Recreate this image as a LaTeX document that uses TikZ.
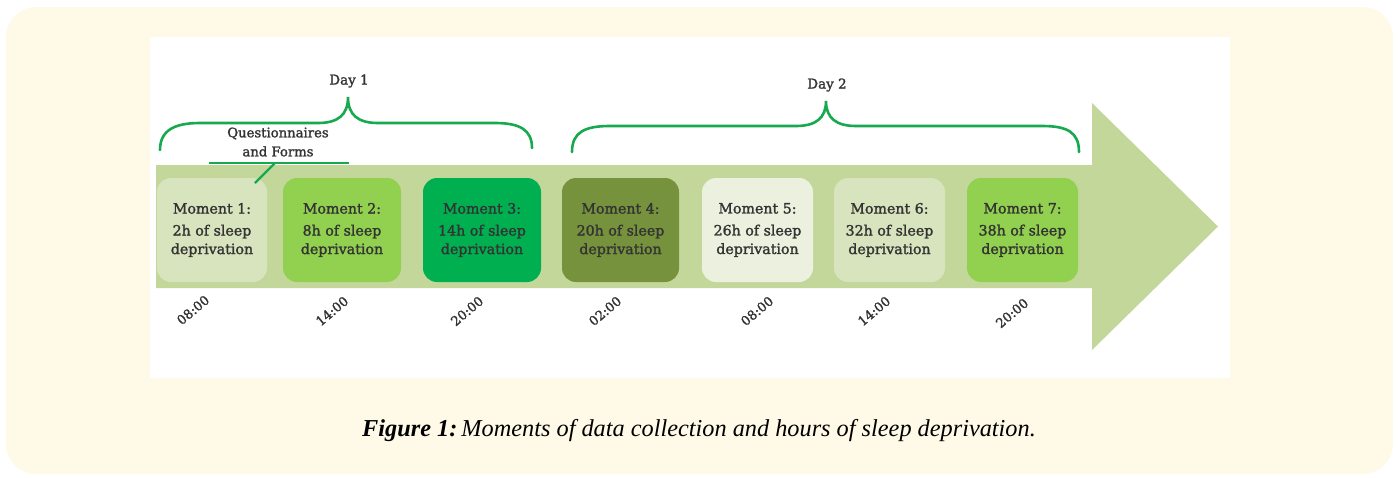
\documentclass[tikz,border=0pt]{standalone}
\usepackage{fontspec}
\setmainfont{DejaVu Serif}
\newfontfamily\semib[FakeBold=1.6]{DejaVu Serif}
\newfontfamily\capfont{Liberation Serif}
\definecolor{cream}{HTML}{FFFAE8}
\definecolor{band}{HTML}{C4D79B}
\definecolor{bxA}{HTML}{D7E4BD}
\definecolor{bxB}{HTML}{92D050}
\definecolor{bxC}{HTML}{00B050}
\definecolor{bxD}{HTML}{76923C}
\definecolor{bxE}{HTML}{EBF1DE}
\definecolor{brace}{HTML}{16A94F}
\definecolor{txt}{HTML}{333333}
\begin{document}
\begin{tikzpicture}[x=1pt,y=-1pt,
  moment/.style={rounded corners=14pt, minimum height=104pt, inner sep=0pt, align=center,
    text=txt, font=\semib\fontsize{14.2}{18.5}\selectfont},
  timelbl/.style={rotate=40, text=txt, font=\semib\fontsize{13}{14}\selectfont, inner sep=0pt},
  bracepath/.style={draw=brace, line width=2.6pt, line cap=round},
  daylbl/.style={text=txt, font=\semib\fontsize{13.5}{15}\selectfont, inner sep=0pt}]
\useasboundingbox (0,0) rectangle (1398,477);
\fill[white] (0,0) rectangle (1398,477);
\fill[cream, rounded corners=30pt] (6,7) rectangle (1393,474);
\fill[white] (150,37) rectangle (1230,378);
% arrow
\fill[band] (156,165) -- (1092,165) -- (1092,103) -- (1218,226.5) -- (1092,350) -- (1092,288) -- (156,288) -- cycle;
% moments
\node[moment, fill=bxA, minimum width=110pt] (m1) at (212,230) {Moment 1:\\[3.5pt]2h of sleep\\deprivation};
\node[moment, fill=bxB, minimum width=118pt] (m2) at (342,230) {Moment 2:\\[3.5pt]8h of sleep\\deprivation};
\node[moment, fill=bxC, minimum width=118pt] (m3) at (482,230) {Moment 3:\\[3.5pt]14h of sleep\\deprivation};
\node[moment, fill=bxD, minimum width=117pt] (m4) at (620.5,230) {Moment 4:\\[3.5pt]20h of sleep\\deprivation};
\node[moment, fill=bxE, minimum width=111pt] (m5) at (757.5,230) {Moment 5:\\[3.5pt]26h of sleep\\deprivation};
\node[moment, fill=bxA, minimum width=111pt] (m6) at (889.5,230) {Moment 6:\\[3.5pt]32h of sleep\\deprivation};
\node[moment, fill=bxB, minimum width=111pt] (m7) at (1022.5,230) {Moment 7:\\[3.5pt]38h of sleep\\deprivation};
% times
\node[timelbl] (t1) at (193,310) {08:00};
\node[timelbl] (t2) at (332,311) {14:00};
\node[timelbl] (t3) at (467,311) {20:00};
\node[timelbl] (t4) at (605,311) {02:00};
\node[timelbl] (t5) at (757,311) {08:00};
\node[timelbl] (t6) at (874,311) {14:00};
\node[timelbl] (t7) at (1012,313) {20:00};
% day braces
\draw[bracepath] (160,150) .. controls (160,130) and (175,123) .. (200,123) -- (318,123)
  .. controls (338,123) and (348,115) .. (348,97)
  .. controls (348,115) and (358,123) .. (378,123) -- (495,123)
  .. controls (520,123) and (532,130) .. (532,148);
\node[daylbl] (d1) at (349,81) {Day 1};
\draw[bracepath] (572,152) .. controls (572,132) and (585,126) .. (610,126) -- (796,126)
  .. controls (816,126) and (826,118) .. (826,101)
  .. controls (826,118) and (836,126) .. (856,126) -- (1042,126)
  .. controls (1067,126) and (1079,132) .. (1079,152);
\node[daylbl] (d2) at (827,85) {Day 2};
% questionnaires callout
\node[daylbl, align=center, font=\semib\fontsize{13.2}{19}\selectfont] (q) at (278,142) {Questionnaires\\and Forms};
\coordinate (ql) at (209,163);
\coordinate (qr) at (349,163);
\coordinate (qk) at (275,163);
\coordinate (qe) at (255,183);
\draw[draw=brace, line width=2.4pt] (ql) -- (qr);
\draw[draw=brace, line width=2.4pt] (qk) -- (qe);
% caption
\node[inner sep=0pt, font=\capfont\fontsize{24.3}{26}\selectfont\itshape] (cap) at (699,431) {\textbf{Figure 1:}\,Moments of data collection and hours of sleep deprivation.};
\end{tikzpicture}
\end{document}
